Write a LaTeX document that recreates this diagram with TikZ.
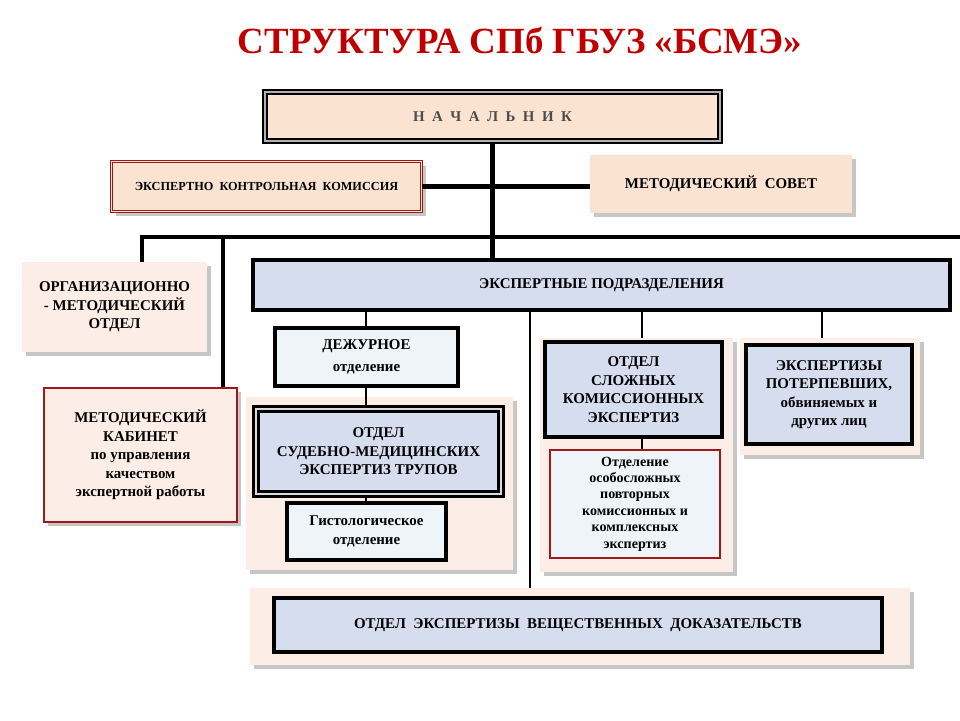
\documentclass[tikz,border=0pt]{standalone}
\usepackage{fontspec}
\setmainfont{Liberation Serif}
\usetikzlibrary{shadows}
\definecolor{peach}{HTML}{FBE3D2}
\definecolor{lpeach}{HTML}{FCEEE6}
\definecolor{pblue}{HTML}{D5DDEE}
\definecolor{pale}{HTML}{EEF4F7}
\definecolor{dred}{HTML}{A01818}
\tikzset{
box/.style={font=\fontsize{8.5}{10.5}\selectfont\bfseries,align=center,inner sep=1pt},
shad/.style={drop shadow={shadow xshift=2.5pt,shadow yshift=-2.5pt,fill=gray!45,opacity=1}},
panel/.style={fill=lpeach,shad},
blk/.style={box,draw=black,line width=2pt,fill=pblue},
redbox/.style={box,draw=dred,line width=1.3pt,fill=pale},
bar/.style={line width=2.3pt},
thin/.style={line width=0.6pt}}

\begin{document}
\begin{tikzpicture}[x=0.02cm,y=-0.02cm]
\useasboundingbox (0,0) rectangle (960,720);

\node[font=\fontsize{21}{25}\selectfont\bfseries,text=red!75!black] (title) at (520,40) {СТРУКТУРА СПб ГБУЗ «БСМЭ»};

% panels
\node[panel,minimum width=5.34cm,minimum height=3.46cm] (p1) at (379.5,483.5) {};
\node[panel,minimum width=3.86cm,minimum height=4.68cm] (p2) at (636.5,455) {};
\node[panel,minimum width=3.6cm,minimum height=2.34cm] (p3) at (830,396.5) {};
\node[panel,minimum width=13.2cm,minimum height=1.54cm] (p4) at (580,626.5) {};

\node[box,draw=black,line width=0.8pt,double=gray!60,double distance=1.6pt,fill=peach,
  minimum width=9.1cm,minimum height=0.98cm,text=black!70] (nach) at (492.5,116.5) {Н\ \ А\ \ Ч\ \ А\ \ Л\ \ Ь\ \ Н\ \ И\ \ К};
\node[box,font=\fontsize{7}{9}\selectfont\bfseries,shad,draw=dred,double=peach,double distance=1pt,fill=peach,
  minimum width=6.2cm,minimum height=1.0cm] (ekk) at (266.5,186.5) {ЭКСПЕРТНО\ \ КОНТРОЛЬНАЯ\ \ КОМИССИЯ};
\node[box,shad,fill=peach,minimum width=5.24cm,minimum height=1.16cm] (sovet) at (721,184) {МЕТОДИЧЕСКИЙ\ \ СОВЕТ};
\node[box,panel,minimum width=3.7cm,minimum height=1.8cm] (org) at (114.5,307) {ОРГАНИЗАЦИОННО\\- МЕТОДИЧЕСКИЙ\\ОТДЕЛ};
\node[box,shad,draw=dred,line width=1.3pt,fill=lpeach,minimum width=3.86cm,minimum height=2.68cm] (kab) at (140.5,455)
  {МЕТОДИЧЕСКИЙ\\КАБИНЕТ\\по управления\\качеством\\экспертной работы};

% connectors
\draw[bar] (nach.south) -- (nach.south |- 0,260);
\draw[bar] (ekk.east) -- (sovet.west |- ekk.east);
\coordinate (barR) at (960,237);
\draw[bar] ([xshift=0.55cm]org.north) |- (barR);
\draw[bar] ([xshift=-0.3cm]kab.north east) -- ++(0,-151);
\draw[thin] (366,310) -- (366,328);
\draw[thin] (530,310) -- (p4.north -| 530,0);
\draw[thin] (642,310) -- (642,338);
\draw[thin] (822,310) -- (822,338);
\draw[thin] (366,386) -- (366,408);
\draw[thin] (366,495) -- (366,503);
\draw[thin] (642,437) -- (642,450);

\node[blk,minimum width=13.94cm,minimum height=1.0cm] (ekp) at (601.5,285) {ЭКСПЕРТНЫЕ ПОДРАЗДЕЛЕНИЯ};
\node[blk,fill=pale,minimum width=3.66cm,minimum height=1.16cm] (dezh) at (366.5,357) {ДЕЖУРНОЕ\\[2pt]отделение};
\node[blk,double=gray!30,double distance=1pt,minimum width=4.9cm,minimum height=1.7cm] (trup) at (378.5,451.5) {ОТДЕЛ\\СУДЕБНО-МЕДИЦИНСКИХ\\ЭКСПЕРТИЗ ТРУПОВ};
\node[blk,fill=pale,minimum width=3.18cm,minimum height=1.14cm] (gist) at (366.5,531.5) {Гистологическое\\отделение};
\node[blk,minimum width=3.54cm,minimum height=1.9cm] (slozh) at (633.5,389.5) {ОТДЕЛ\\СЛОЖНЫХ\\КОМИССИОННЫХ\\ЭКСПЕРТИЗ};
\node[redbox,font=\fontsize{8}{9.3}\selectfont\bfseries,minimum width=3.4cm,minimum height=2.16cm] (osob) at (635,504) {Отделение\\особосложных\\повторных\\комиссионных и\\комплексных\\экспертиз};
\node[blk,minimum width=3.32cm,minimum height=1.98cm] (poter) at (829,394.5) {ЭКСПЕРТИЗЫ\\ПОТЕРПЕВШИХ,\\обвиняемых и\\других лиц};
\node[blk,minimum width=12.16cm,minimum height=1.08cm] (ved) at (578,625) {ОТДЕЛ\ \ ЭКСПЕРТИЗЫ\ \ ВЕЩЕСТВЕННЫХ\ \ ДОКАЗАТЕЛЬСТВ};
\end{tikzpicture}
\end{document}
